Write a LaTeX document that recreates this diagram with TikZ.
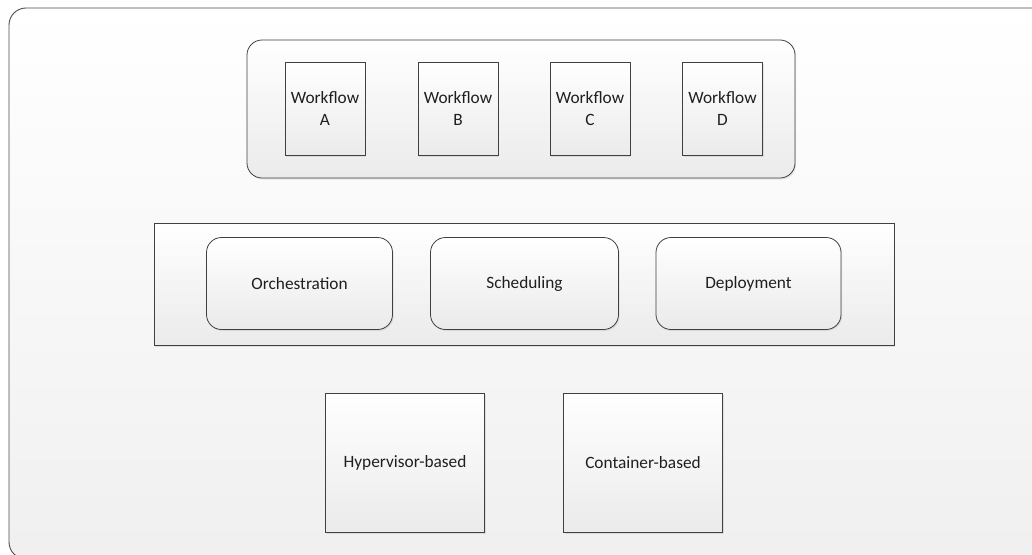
\documentclass[tikz,border=0pt]{standalone}
\usepackage{fontspec}
\setmainfont{Carlito}
\usetikzlibrary{shadows}
\begin{document}
\begin{tikzpicture}[x=1pt,y=-1pt,
  lbl/.style={font=\fontsize{17.3}{22.5}\selectfont, text=black!88, align=center},
  shade/.style={top color=white, bottom color=black!8},
  shd/.style={drop shadow={opacity=0.18, shadow xshift=1.2pt, shadow yshift=-1.5pt}},
  sqbox/.style={draw=black!75, line width=0.8pt, shade, shd, inner sep=0pt, lbl},
  rbox/.style={sqbox, rounded corners=15pt},
  wfbox/.style={sqbox, minimum width=80pt, minimum height=93pt}
]
\useasboundingbox (0,0) rectangle (1032,554);
\begin{scope}
  \clip (0,0) rectangle (1032,554);
  \draw[draw=black!70, line width=0.9pt, top color=white, bottom color=black!6, rounded corners=17pt] (9,8) rectangle (1060,559);
\end{scope}
% workflow layer
\node[rbox, minimum width=548pt, minimum height=138pt] (wfl) at (521,109) {};
\node[wfbox] (wa) at (325,108.5) {Workflow\\A};
\node[wfbox] (wb) at (458,108.5) {Workflow\\B};
\node[wfbox] (wc) at (590,108.5) {Workflow\\C};
\node[wfbox] (wd) at (722.5,108.5) {Workflow\\D};
% middle layer
\node[sqbox, minimum width=740pt, minimum height=122pt] (mid) at (524,284) {};
\node[rbox, minimum width=186pt, minimum height=92pt] (orc) at (299.5,283.5) {Orchestration};
\node[rbox, minimum width=188pt, minimum height=92pt] (sch) at (524.5,283.5) {Scheduling};
\node[rbox, minimum width=185pt, minimum height=92pt] (dep) at (748.5,283.5) {Deployment};
% bottom layer
\node[sqbox, minimum width=159pt, minimum height=139pt] (hyp) at (405,462.5) {Hypervisor-based};
\node[sqbox, minimum width=159pt, minimum height=139pt] (con) at (643,462.5) {Container-based};
\end{tikzpicture}
\end{document}
